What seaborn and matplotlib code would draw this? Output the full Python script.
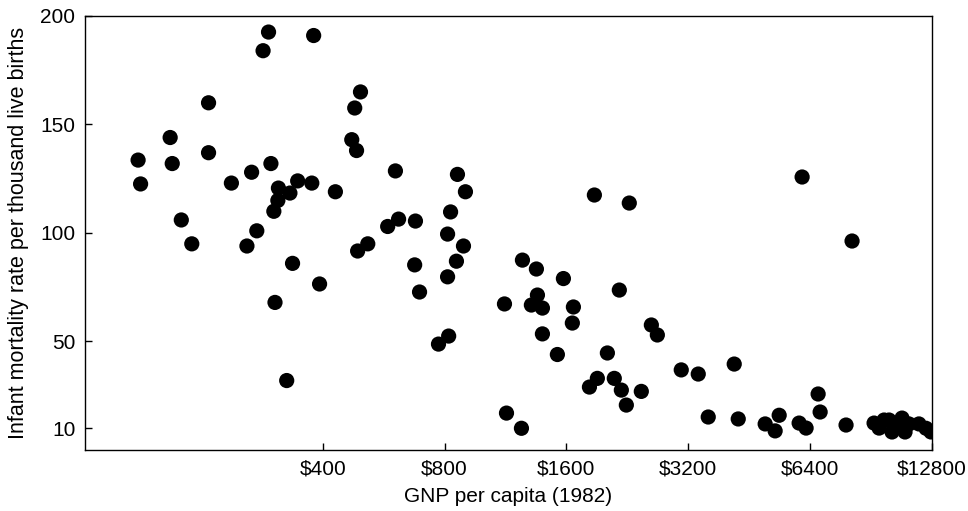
import matplotlib
matplotlib.use("Agg")
import matplotlib.pyplot as plt
import seaborn as sns
import pandas as pd

# GNP per capita (1982 US$) and infant mortality (per 1000 live births)
gnp = [140, 142, 168, 170, 179, 190, 209, 209, 238, 260,
       267, 275, 285, 294, 298, 311, 310, 303, 332, 347,
       376, 380, 337, 393, 305, 326, 430, 496, 480, 472,
       485, 605, 861, 901, 1876, 2288, 828, 678, 616, 579,
       814, 891, 517, 488, 675, 856, 814, 694, 1246, 1349,
       1573, 2162, 1125, 1357, 1311, 1396, 1665, 1655, 1396, 1520,
       2020, 773, 819, 1824, 1908, 2101, 2187, 2250, 2450, 1138,
       1239, 2594, 2684, 3075, 3387, 4156, 3585, 4252, 4956, 5245,
       5367, 6012, 6255, 6698, 6775, 7851, 6115, 8124, 9208, 9475,
       9747, 10028, 10196, 10491, 10793, 10980, 11232, 11884, 12372, 12728]
mortality = [133.6, 122.6, 144, 132, 106, 95, 160, 137, 123, 94,
             128, 101, 184, 192.6, 132, 120.7, 115, 110, 118.4, 124,
             123, 191, 86, 76.5, 68, 32, 119, 165, 157.6, 143,
             138, 128.6, 127, 119, 117.5, 113.8, 109.7, 105.5, 106.4, 103,
             99.5, 94, 95, 91.7, 85.3, 87, 79.8, 72.8, 87.5, 83.4,
             79, 73.7, 67.3, 71.4, 66.8, 65.4, 65.9, 58.5, 53.5, 44,
             44.7, 48.8, 52.5, 29, 33, 33, 27.6, 20.7, 27, 17,
             10, 57.6, 53, 36.9, 35, 39.6, 15.2, 14.3, 12, 8.8,
             16, 12.4, 10.1, 25.8, 17.5, 11.5, 125.8, 96.3, 12.4, 10.1,
             13.8, 13.8, 8.3, 11.5, 14.7, 8.3, 12, 12, 10, 8.3]

x_ticks = [400, 800, 1600, 3200, 6400, 12800]
x_tick_labels = ["$400", "$800", "$1600", "$3200", "$6400", "$12800"]
y_ticks = [10, 50, 100, 150, 200]

df = pd.DataFrame({"gnp": gnp, "mortality": mortality})

sns.set_theme(style="white")
plt.rcParams["font.family"] = ["Liberation Sans", "DejaVu Sans"]

fig = plt.figure(figsize=(9.68, 5.11), dpi=100)
ax = fig.add_axes([0.0878, 0.1194, 0.875, 0.8493])

sns.scatterplot(data=df, x="gnp", y="mortality", ax=ax, color="black",
                s=120, edgecolor="none", linewidth=0)

ax.set_xscale("log", base=2)
ax.set_xlim(103.5, 12800)
ax.set_ylim(0, 200)
ax.set_xticks(x_ticks)
ax.set_xticklabels(x_tick_labels)
ax.minorticks_off()
ax.set_yticks(y_ticks)

ax.tick_params(direction="in", length=5, width=1, color="black",
               labelsize=15, labelcolor="black", pad=7, left=True, bottom=True)
for side in ["left", "right", "top", "bottom"]:
    ax.spines[side].set_visible(True)
    ax.spines[side].set_color("black")
    ax.spines[side].set_linewidth(1.0)

ax.set_xlabel("GNP per capita (1982)", fontsize=15, color="black", labelpad=6)
ax.set_ylabel("Infant mortality rate per thousand live births", fontsize=15.5,
              color="black", labelpad=8)

fig.savefig("out.png", dpi=100)
